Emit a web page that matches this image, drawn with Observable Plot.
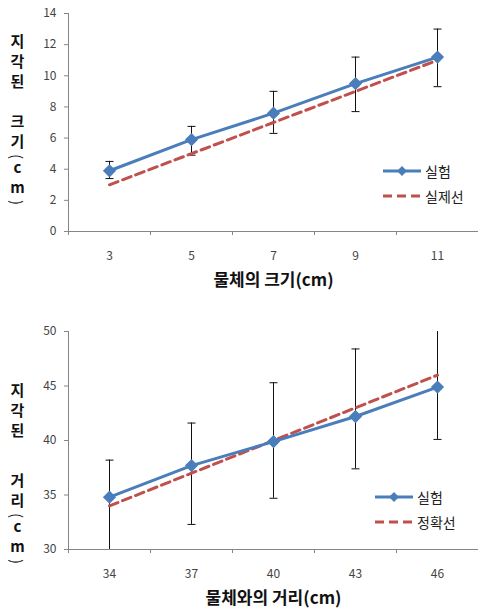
<!DOCTYPE html>
<html>
<head>
<meta charset="utf-8">
<script src="https://cdn.jsdelivr.net/npm/d3@7"></script>
<script src="https://cdn.jsdelivr.net/npm/@observablehq/plot@0.6"></script>
<style>
  body { margin: 0; background: #fff; font-family: "Noto Sans CJK KR", "Noto Sans", sans-serif; }
  .panel { position: relative; width: 478px; }
  .ylab { position: absolute; left: 10px; writing-mode: vertical-rl; text-orientation: upright;
          font-size: 15px; font-weight: 700; letter-spacing: 5px; color: #111; line-height: 1; }
  .ylab .p { text-orientation: sideways; letter-spacing: 1px; font-weight: 400; }
  .legend { position: absolute; font-size: 14px; color: #222; }
  .legend .row { display: flex; align-items: center; height: 25px; }
  .legend svg { margin-right: 4px; }
</style>
</head>
<body>
<div id="top" class="panel"></div>
<div id="bottom" class="panel"></div>
<script>
// ---- data: chart 1 (perceived size) ----
const sizeX = [3, 5, 7, 9, 11];
const sizeMeasured = [3.9, 5.9, 7.6, 9.5, 11.2];
const sizeActual = [3, 5, 7, 9, 11];
const sizeErrLow = [3.4, 4.9, 6.3, 7.7, 9.3];
const sizeErrHigh = [4.5, 6.75, 9.0, 11.2, 13.0];
const sizeYTicks = [0, 2, 4, 6, 8, 10, 12, 14];
const sizeXLabel = "물체의 크기(cm)";
const sizeYLabel = "지각된 크기(cm)";
const sizeSeries = ["실험", "실제선"];

// ---- data: chart 2 (perceived distance) ----
const distX = [34, 37, 40, 43, 46];
const distMeasured = [34.8, 37.7, 39.9, 42.2, 44.9];
const distActual = [34, 37, 40, 43, 46];
const distErrLow = [29.8, 32.3, 34.7, 37.4, 40.1];
const distErrHigh = [38.2, 41.6, 45.3, 48.4, 51.9];
const distYTicks = [30, 35, 40, 45, 50];
const distXLabel = "물체와의 거리(cm)";
const distYLabel = "지각된 거리(cm)";
const distSeries = ["실험", "정확선"];

const BLUE = "#4A7EBB", RED = "#C0504D", AXIS = "#868686";
const FONT = "'Noto Sans CJK KR', 'Noto Sans', sans-serif";

const capSymbol = {
  draw(ctx, size) {
    const r = Math.sqrt(size / Math.PI);
    ctx.moveTo(-r, 0);
    ctx.lineTo(r, 0);
  }
};

function chart({xs, measured, actual, low, high, yTicks, height, marginTop, marginBottom, xLabel}) {
  const step = xs[1] - xs[0];
  const xDomain = [xs[0] - step / 2, xs[xs.length - 1] + step / 2];
  const bounds = d3.range(xs.length + 1).map(i => xDomain[0] + i * step);
  const yDomain = [yTicks[0], yTicks[yTicks.length - 1]];
  const data = xs.map((x, i) => ({x, m: measured[i], a: actual[i], lo: low[i], hi: high[i]}));
  return Plot.plot({
    width: 478, height, marginLeft: 68, marginRight: 0, marginTop, marginBottom,
    style: {fontFamily: FONT, fontSize: "12px", background: "transparent"},
    x: {domain: xDomain},
    y: {domain: yDomain},
    marks: [
      Plot.axisY({ticks: yTicks, tickSize: 4, tickPadding: 8, stroke: AXIS, fill: "#444", label: null, fontSize: 12}),
      Plot.axisX({ticks: xs, tickSize: 0, tickPadding: 20, fill: "#444", label: null, fontSize: 12}),
      Plot.axisX({ticks: bounds, tickSize: 4, tickFormat: () => "", stroke: AXIS, label: null}),
      Plot.ruleX([xDomain[0]], {stroke: AXIS}),
      Plot.ruleY([yDomain[0]], {stroke: AXIS}),
      Plot.ruleX(data, {x: "x", y1: "lo", y2: "hi", stroke: "#111", strokeWidth: 1, clip: true}),
      Plot.dot(data, {x: "x", y: "hi", symbol: capSymbol, r: 4, stroke: "#111", strokeWidth: 1, clip: true}),
      Plot.dot(data, {x: "x", y: "lo", symbol: capSymbol, r: 4, stroke: "#111", strokeWidth: 1, clip: true}),
      Plot.line(data, {x: "x", y: "a", stroke: RED, strokeWidth: 3, strokeDasharray: "9,5"}),
      Plot.line(data, {x: "x", y: "m", stroke: BLUE, strokeWidth: 3}),
      Plot.dot(data, {x: "x", y: "m", symbol: "diamond2", r: 5, fill: BLUE, stroke: BLUE}),
      Plot.text([xLabel], {text: d => d, frameAnchor: "bottom", dy: 54, fontSize: 17, fontWeight: "bold", fill: "#111"})
    ]
  });
}

function legend(names, left, top) {
  const div = document.createElement("div");
  div.className = "legend";
  div.style.left = left + "px";
  div.style.top = top + "px";
  div.innerHTML =
    `<div class="row"><svg width="38" height="12"><line x1="0" x2="38" y1="6" y2="6" stroke="${BLUE}" stroke-width="3"/>` +
    `<path d="M19,1L24,6L19,11L14,6Z" fill="${BLUE}"/></svg><span>${names[0]}</span></div>` +
    `<div class="row"><svg width="38" height="12"><line x1="0" x2="38" y1="6" y2="6" stroke="${RED}" stroke-width="3" stroke-dasharray="9,5"/></svg><span>${names[1]}</span></div>`;
  return div;
}

function ylabel(text, top, extraGap) {
  const div = document.createElement("div");
  div.className = "ylab";
  div.style.top = top + "px";
  const [a, b] = text.split(" ");
  const bHtml = b.replace(/\(/g, '<span class="p">(</span>').replace(/\)/g, '<span class="p">)</span>');
  div.innerHTML = `${a} <span style="margin-inline-start:${extraGap}px">${bHtml}</span>`;
  return div;
}

const topEl = document.getElementById("top");
topEl.append(chart({xs: sizeX, measured: sizeMeasured, actual: sizeActual, low: sizeErrLow, high: sizeErrHigh,
  yTicks: sizeYTicks, height: 305, marginTop: 13, marginBottom: 74, xLabel: sizeXLabel}));
topEl.append(ylabel(sizeYLabel, 34, 0));
topEl.append(legend(sizeSeries, 383, 158));

const botEl = document.getElementById("bottom");
botEl.append(chart({xs: distX, measured: distMeasured, actual: distActual, low: distErrLow, high: distErrHigh,
  yTicks: distYTicks, height: 311, marginTop: 26, marginBottom: 67, xLabel: distXLabel}));
botEl.append(ylabel(distYLabel, 78, 10));
botEl.append(legend(distSeries, 375, 179));
</script>
</body>
</html>
